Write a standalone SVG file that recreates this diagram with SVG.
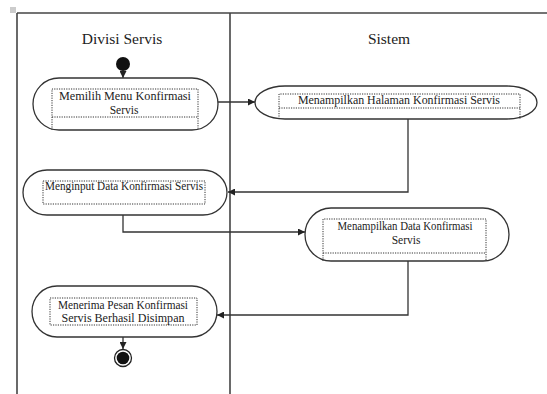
<svg xmlns="http://www.w3.org/2000/svg" width="547" height="394" viewBox="0 0 547 394">
  <style>
    .lane { stroke: #444; stroke-width: 1.6; fill: none; }
    .head { font-family: "Liberation Serif", "Times New Roman", serif; font-size: 15.5px; fill: #222; text-anchor: middle; }
    .act { fill: #fff; stroke: #333; stroke-width: 1.3; }
    .box { fill: none; stroke: #333; stroke-width: 1; stroke-dasharray: 1.2 1.2; }
    .lbl { font-family: "Liberation Serif", "Times New Roman", serif; font-size: 11.5px; fill: #222; }
    .mid { text-anchor: middle; }
    .flow { fill: none; stroke: #333; stroke-width: 1.3; marker-end: url(#arrow); }
  </style>
  <defs>
    <marker id="arrow" viewBox="0 0 10 10" refX="10" refY="5" markerWidth="7" markerHeight="7" markerUnits="userSpaceOnUse" orient="auto">
      <path d="M0,0 L10,5 L0,10 z" fill="#222"/>
    </marker>
  </defs>

  <rect width="547" height="394" fill="#fff"/>

  <!-- swimlane frame -->
  <g id="swimlanes">
    <rect x="10" y="7" width="6" height="6" fill="#ccc"/>
    <line class="lane" x1="17" y1="13" x2="547" y2="13"/>
    <line class="lane" x1="17" y1="13" x2="17" y2="394"/>
    <line class="lane" x1="230" y1="13" x2="230" y2="394"/>
    <text class="head" x="122" y="44">Divisi Servis</text>
    <text class="head" x="389" y="44">Sistem</text>
  </g>

  <!-- control flow -->
  <g id="connectors">
    <path class="flow" d="M123,71 L123,78"/>
    <path class="flow" d="M218,102 L255,102"/>
    <path class="flow" d="M408,119 L408,192 L228,192"/>
    <path class="flow" d="M123,215 L123,232 L305,232"/>
    <path class="flow" d="M408,261 L408,315 L217,315"/>
    <path class="flow" d="M123,337 L123,349"/>
  </g>

  <g id="start">
    <circle cx="123" cy="64" r="7" fill="#111"/>
  </g>

  <g id="memilih-menu">
    <rect class="act" x="33" y="78" width="185" height="52" rx="26" ry="26"/>
    <path class="box" d="M52,130 L52,89 L198,89 L198,130 M52,117 L198,117"/>
    <text class="lbl mid" x="125" y="100" textLength="132" lengthAdjust="spacingAndGlyphs">Memilih Menu Konfirmasi</text>
    <text class="lbl mid" x="124" y="114">Servis</text>
  </g>

  <g id="menampilkan-halaman">
    <rect class="act" x="255" y="86" width="282" height="33" rx="30" ry="16.5"/>
    <path class="box" d="M279,119 L279,94 L520,94 L520,119 M279,108 L520,108"/>
    <text class="lbl mid" x="399" y="104" textLength="202" lengthAdjust="spacingAndGlyphs">Menampilkan Halaman Konfirmasi Servis</text>
  </g>

  <g id="menginput-data">
    <rect class="act" x="23" y="170" width="204" height="45" rx="24" ry="22.5"/>
    <rect class="box" x="43" y="181" width="162" height="23"/>
    <text class="lbl" x="45" y="190" textLength="158" lengthAdjust="spacingAndGlyphs">Menginput Data Konfirmasi Servis</text>
  </g>

  <g id="menampilkan-data">
    <rect class="act" x="305" y="208" width="204" height="53" rx="26" ry="26.5"/>
    <path class="box" d="M323,261 L323,219 L486,219 L486,261 M323,253 L486,253"/>
    <text class="lbl mid" x="405" y="230" textLength="135" lengthAdjust="spacingAndGlyphs">Menampilkan Data Konfirmasi</text>
    <text class="lbl mid" x="406" y="244">Servis</text>
  </g>

  <g id="menerima-pesan">
    <rect class="act" x="32" y="286" width="185" height="51" rx="25" ry="25.5"/>
    <rect class="box" x="50" y="298" width="147" height="27"/>
    <text class="lbl mid" x="123" y="309" textLength="130" lengthAdjust="spacingAndGlyphs">Menerima Pesan Konfirmasi</text>
    <text class="lbl mid" x="123" y="322" textLength="123" lengthAdjust="spacingAndGlyphs">Servis Berhasil Disimpan</text>
  </g>

  <g id="end">
    <circle cx="123" cy="358" r="8.5" fill="#fff" stroke="#222" stroke-width="1.3"/>
    <circle cx="123" cy="358" r="6.3" fill="#111"/>
  </g>
</svg>
